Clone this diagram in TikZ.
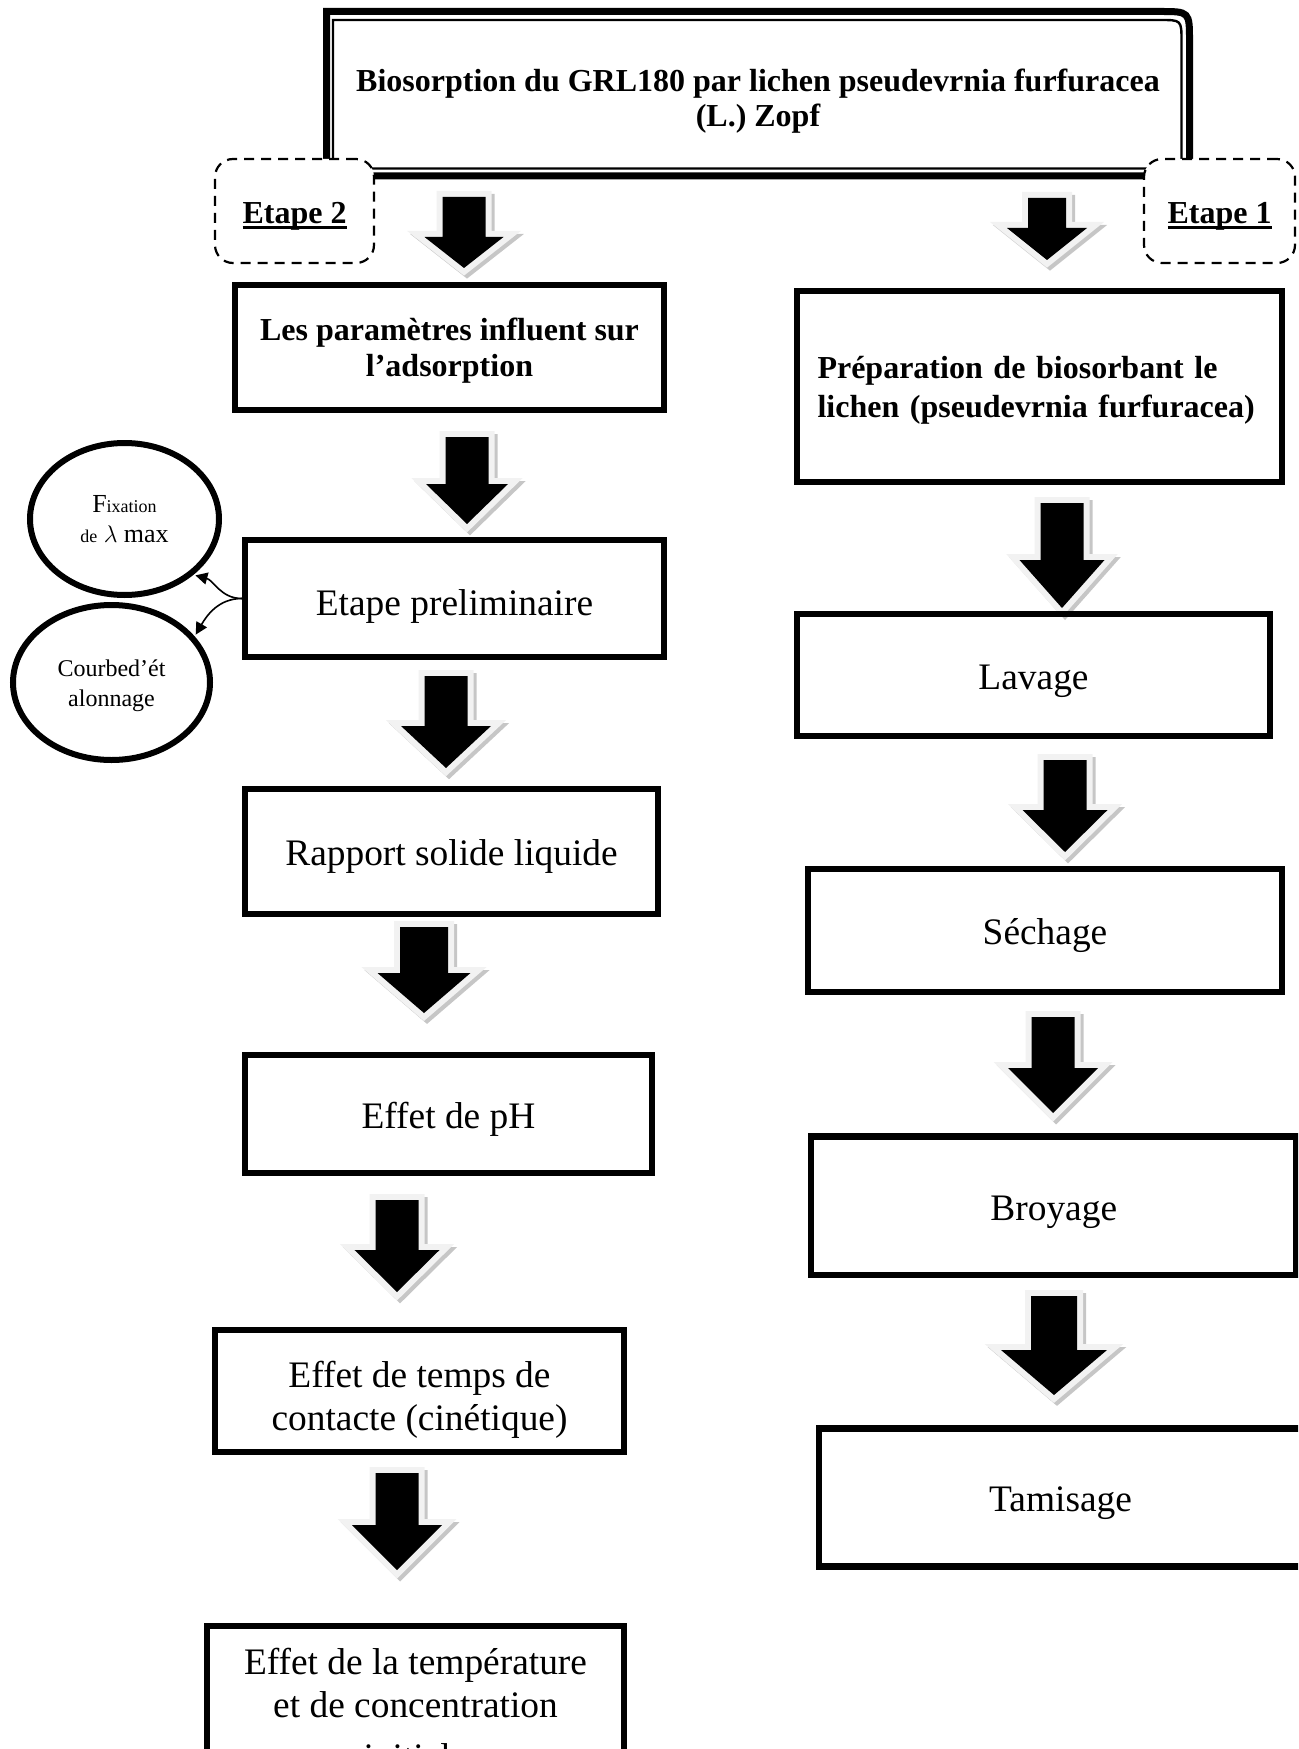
\documentclass[tikz,border=0pt]{standalone}
\usepackage{fontspec}
\setmainfont{Liberation Serif}
\usetikzlibrary{shapes.geometric,arrows.meta}

\newcommand{\grand}{\fontsize{18.7}{21.5}\selectfont}
\newcommand{\gras}{\fontsize{16}{18}\selectfont\bfseries}
% soulignement epais
\newcommand{\souligne}[1]{\setbox0\hbox{#1}\rlap{\rule[-2.5pt]{\wd0}{1.2pt}}\box0}

\tikzset{
  boite/.style={draw, line width=3.2pt, inner sep=0pt, align=center, font=\grand},
  uneligne/.style={text height=20pt, text depth=5.7pt},
  etape/.style={draw, fill=white, dash pattern=on 5pt off 3.5pt, line width=1.1pt,
    rounded corners=9pt, inner sep=0pt, font=\gras, text height=16pt, text depth=3.4pt},
  bulle/.style={ellipse, draw, line width=3pt, inner sep=0pt, align=center,
    font=\fontsize{13}{15}\selectfont},
  flechefine/.style={-{Triangle[length=6pt,width=6pt]}, line width=0.8pt, shorten >=1pt},
  ombre/.style={fill=gray!45, draw=gray!45, line width=6pt, line join=miter},
  contourgris/.style={fill=gray!10, draw=gray!10, line width=6pt, line join=miter}
}

% grosse fleche : x, y haut, y pointe, largeur tige, largeur tete, longueur tete
\newcommand{\flechebloc}[6]{%
  \pgfmathsetmacro{\fbga}{#1-#4/2}%
  \pgfmathsetmacro{\fbdr}{#1+#4/2}%
  \pgfmathsetmacro{\fbtg}{#1-#5/2}%
  \pgfmathsetmacro{\fbtd}{#1+#5/2}%
  \pgfmathsetmacro{\fbyt}{#3-#6}%
  \def\fbcontour{(\fbga,#2) -- (\fbdr,#2) -- (\fbdr,\fbyt) -- (\fbtd,\fbyt) -- (#1,#3) -- (\fbtg,\fbyt) -- (\fbga,\fbyt) -- cycle}%
  \filldraw[ombre, shift={(3,3)}] \fbcontour;
  \filldraw[contourgris] \fbcontour;
  \fill[black] \fbcontour;
}

\begin{document}
\begin{tikzpicture}[x=0.5pt, y=-0.5pt]
\useasboundingbox (0,0) rectangle (1298,1749);
\clip (0,0) rectangle (1298,1749);

% cadre du titre
\draw[line width=3.5pt] (326.5,176) -- (326.5,11.5) -- (1160,11.5) .. controls (1189.5,11.5) .. (1189.5,41) -- (1189.5,176) -- cycle;
\draw[line width=1.2pt] (333,168.5) -- (333,20) -- (1160,20) .. controls (1181.5,20) .. (1181.5,41.5) -- (1181.5,168.5) -- cycle;
\node[font=\fontsize{16}{17.5}\selectfont\bfseries, align=center] (titre) at (758,101)
  {Biosorption du GRL180 par lichen pseudevrnia furfuracea\\(L.) Zopf};

% etapes
\node[etape, minimum width=79.5pt, minimum height=52pt] (etape2) at (294.5,211) {\souligne{Etape 2}};
\node[etape, minimum width=75.5pt, minimum height=52pt] (etape1) at (1219.5,211) {\souligne{Etape 1}};

% fleches
\flechebloc{464}{197}{268}{43}{79}{31}
\flechebloc{467}{437}{524}{43}{82}{40}
\flechebloc{446}{676}{768}{43}{90}{42}
\flechebloc{424}{927}{1013}{48}{93}{40}
\flechebloc{397}{1200}{1292}{43}{85}{42}
\flechebloc{397}{1473}{1570}{43}{90}{45}
\flechebloc{1047}{198}{260}{38}{80}{32}
\flechebloc{1062}{503}{608}{43}{85}{48}
\flechebloc{1065}{760}{852}{43}{85}{42}
\flechebloc{1053}{1017}{1113}{43}{90}{45}
\flechebloc{1054}{1296}{1395}{46}{106}{45}

% colonne de gauche
\node[boite, font=\gras, minimum width=214.5pt, minimum height=62.5pt] (parametres) at (449.5,347.5)
  {\rule{0pt}{14.5pt}Les paramètres influent sur\\l’adsorption};
\node[boite, uneligne, text height=22pt, text depth=5.5pt, minimum width=209.5pt, minimum height=58.5pt] (prelim) at (454.5,598.5) {Etape preliminaire};
\node[boite, uneligne, minimum width=206.5pt, minimum height=62.5pt] (rapport) at (451.5,851.5) {Rapport solide liquide};
\node[boite, uneligne, minimum width=203.5pt, minimum height=59pt] (ph) at (448.5,1114) {Effet de pH};
\node[boite, minimum width=204.5pt, minimum height=61pt] (contact) at (419.5,1391)
  {\rule{0pt}{21.8pt}Effet de temps de\\contacte (cinétique)};
\node[boite, minimum width=208.5pt, minimum height=79pt] (temperature) at (415.5,1705)
  {\rule{0pt}{17.3pt}Effet de la température\\et de concentration\\[4.5pt]initiale};

% bulles
\node[bulle, minimum width=94.5pt, minimum height=76pt] (fixation) at (124.5,519)
  {F{\fontsize{9}{15}\selectfont ixation}\\{\fontsize{9}{15}\selectfont de} $\lambda$ max};
\node[bulle, font=\fontsize{12}{15}\selectfont, minimum width=98.5pt, minimum height=77.5pt] (courbe) at (111.5,682.5)
  {\rule{0pt}{12pt}Courbed’ét\\alonnage};
\draw[flechefine] (prelim.west) to[out=180, in=-15] (fixation.-39);
\draw[flechefine] (prelim.west) to[out=180, in=60] (courbe.29);

% colonne de droite
\node[boite, font=\fontsize{16}{19.5}\selectfont\bfseries, align=left, text width=222pt, minimum width=242.5pt, minimum height=95.5pt]
  (preparation) at (1039.5,386.5) {\rule{0pt}{15.2pt}Préparation de biosorbant le\\lichen (pseudevrnia furfuracea)};
\node[boite, uneligne, minimum width=236.5pt, minimum height=61pt] (lavage) at (1033.5,675) {Lavage};
\node[boite, uneligne, minimum width=237pt, minimum height=61.5pt] (sechage) at (1045,930.5) {Séchage};
\node[boite, uneligne, minimum width=242.75pt, minimum height=69.25pt] (broyage) at (1053.75,1205.75) {Broyage};
\node[boite, uneligne, minimum width=241.5pt, minimum height=69pt] (tamisage) at (1060.5,1497.5) {Tamisage};
\end{tikzpicture}
\end{document}
